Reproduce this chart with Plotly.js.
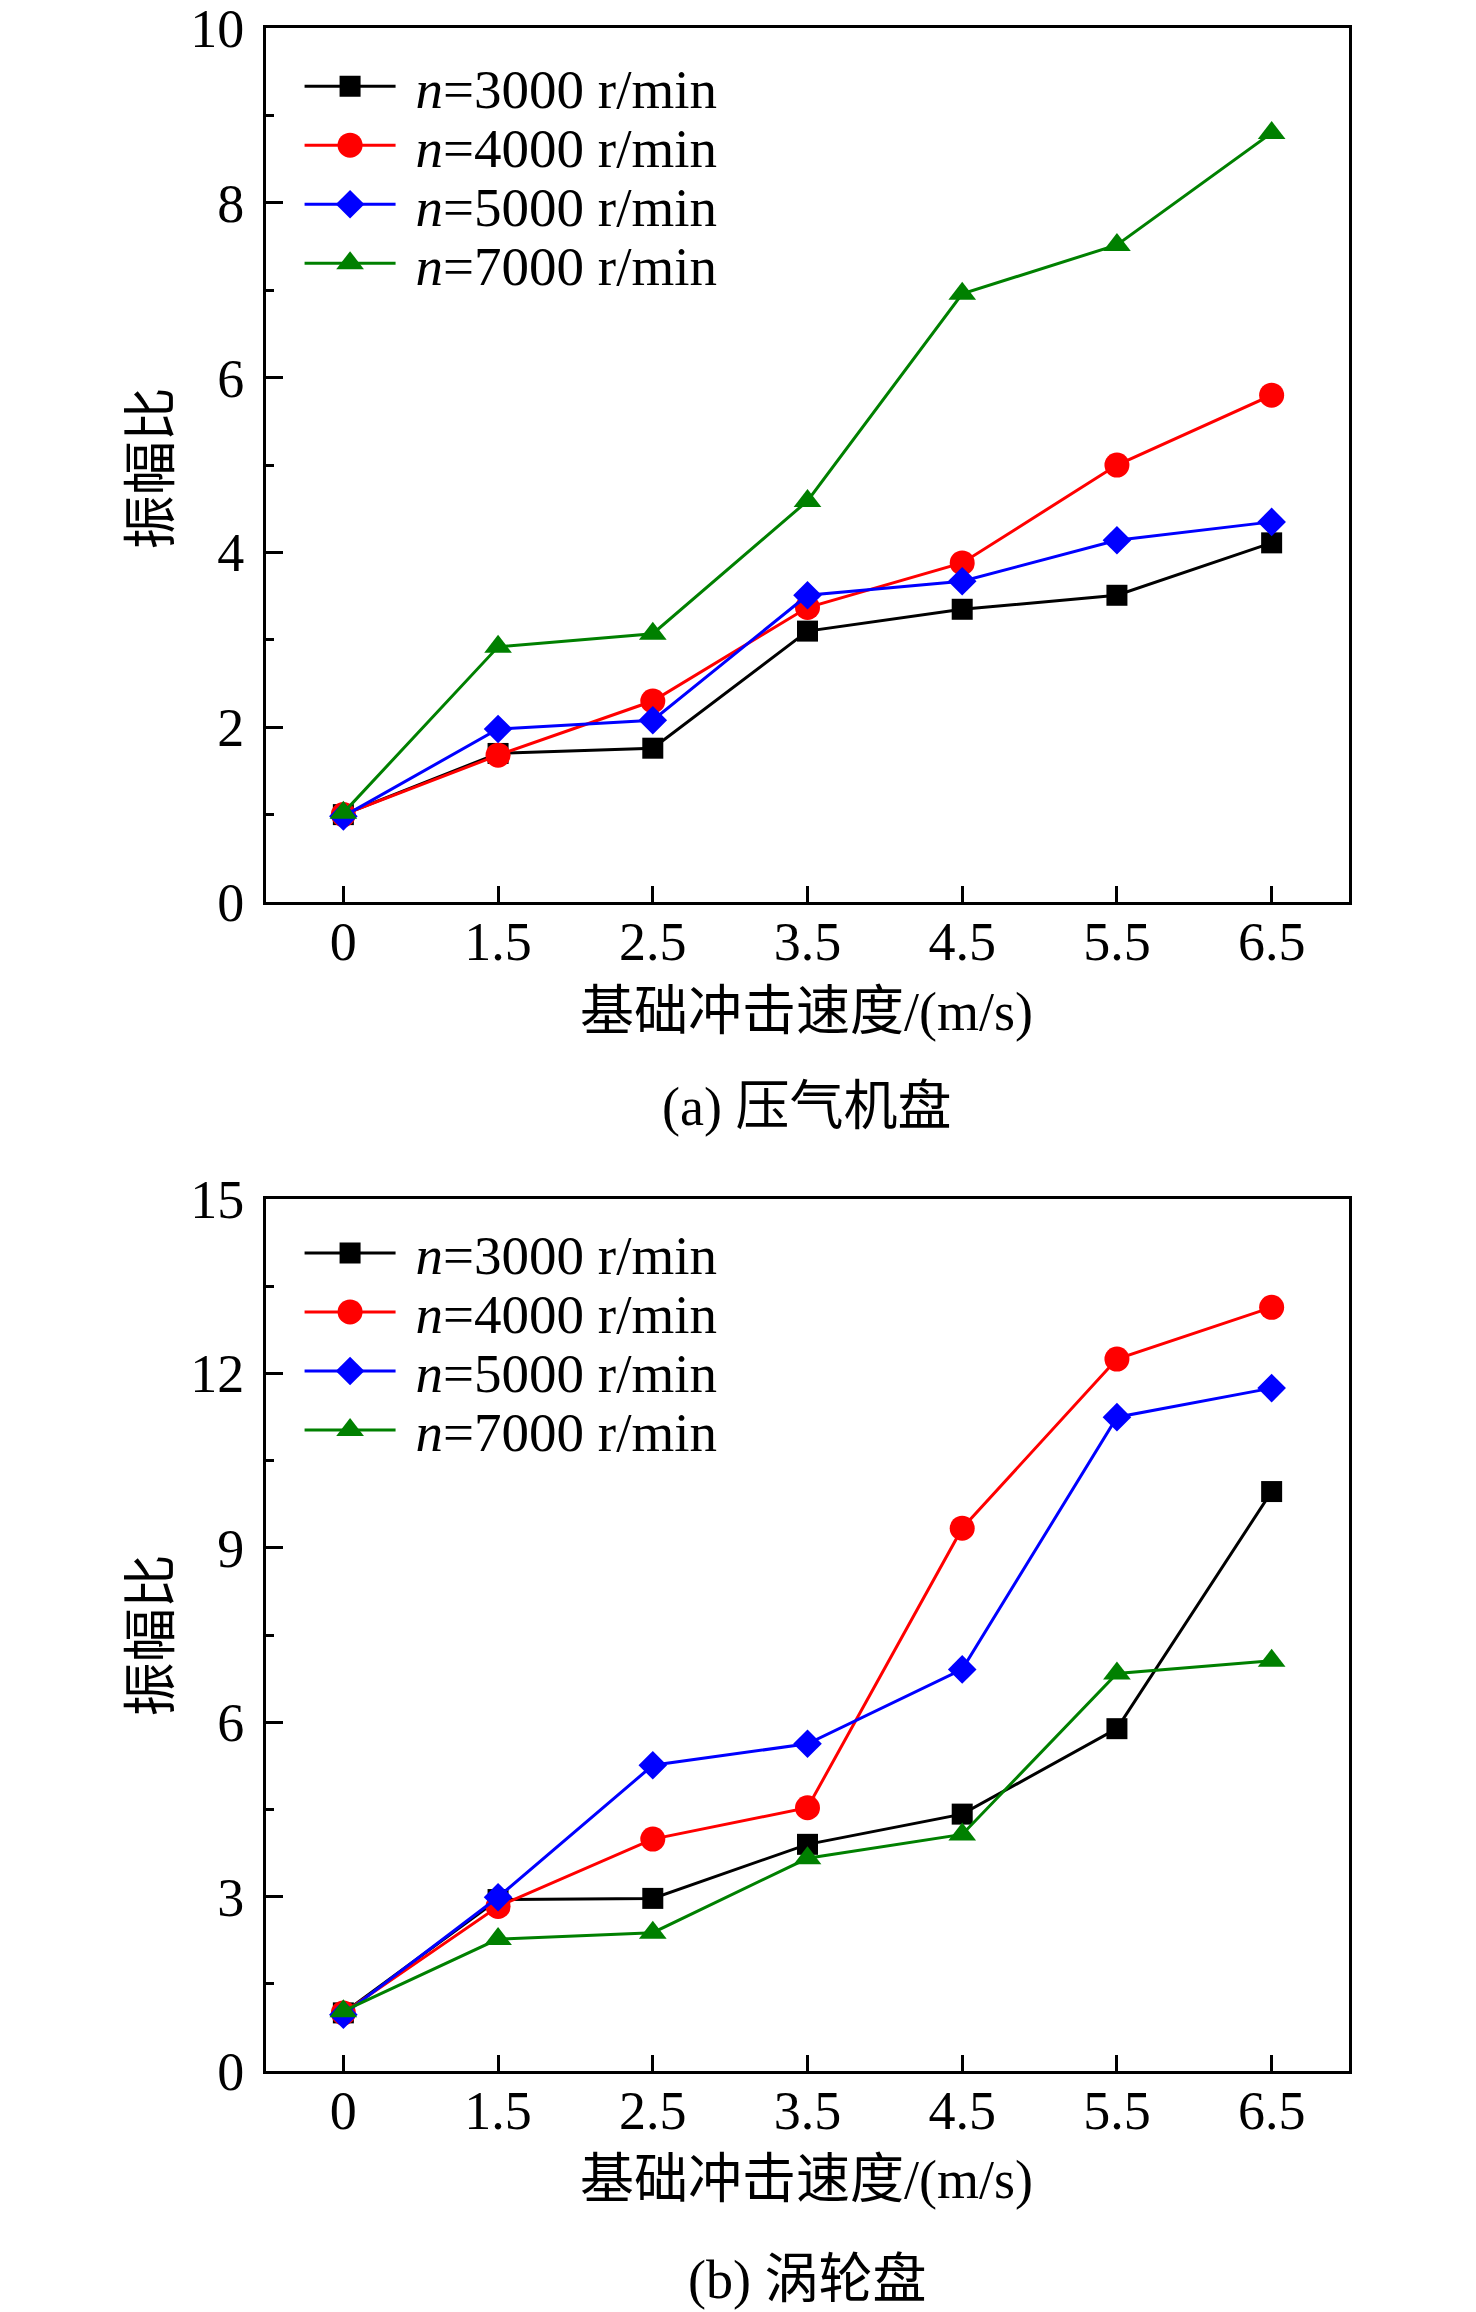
<!DOCTYPE html>
<html>
<head>
<meta charset="utf-8">
<script src="https://cdn.plot.ly/plotly-3.0.1.min.js"></script>
<style>
  html, body { margin: 0; padding: 0; background: #fff; }
  #chart { width: 1476px; height: 2312px; }
</style>
</head>
<body>
<div id="chart"></div>
<script>
// impact speed categories (m/s), shared by both panels
const speeds = ['0', '1.5', '2.5', '3.5', '4.5', '5.5', '6.5'];
const speedNames = ['n=3000 r/min', 'n=4000 r/min', 'n=5000 r/min', 'n=7000 r/min'];

// (a) compressor disc
const compN3000 = [1.00, 1.70, 1.76, 3.10, 3.35, 3.51, 4.11];
const compN4000 = [1.00, 1.68, 2.30, 3.37, 3.88, 5.00, 5.80];
const compN5000 = [0.98, 1.98, 2.08, 3.51, 3.67, 4.14, 4.35];
const compN7000 = [1.02, 2.92, 3.07, 4.59, 6.96, 7.52, 8.80];

// (b) turbine disc
const turbN3000 = [1.00, 2.95, 2.97, 3.90, 4.42, 5.89, 9.97];
const turbN4000 = [1.00, 2.83, 3.99, 4.53, 9.34, 12.25, 13.14];
const turbN5000 = [0.97, 2.99, 5.26, 5.63, 6.91, 11.25, 11.75];
const turbN7000 = [1.03, 2.27, 2.38, 3.66, 4.07, 6.84, 7.06];

const SERIF = '"Liberation Serif", "Times New Roman", "Noto Sans CJK SC", serif';
const FS = 54;
const LEGEND_ROW = 59;

const styles = [
  { color: '#000000', symbol: 'square', size: 21 },
  { color: '#ff0000', symbol: 'circle', size: 25 },
  { color: '#0000ff', symbol: 'diamond', size: 22 },
  { color: '#008000', symbol: 'triangle-up', size: 24 }
];

function legendLabel(name) {
  // italic n, rest upright
  return '<i>n</i>' + name.slice(1);
}

function panelTraces(series, xa, ya, legendId) {
  return series.map((vals, i) => ({
    type: 'scatter', mode: 'lines+markers',
    x: speeds, y: vals,
    xaxis: xa, yaxis: ya,
    name: legendLabel(speedNames[i]),
    legend: legendId,
    line: { color: styles[i].color, width: 3 },
    marker: { symbol: styles[i].symbol, size: styles[i].size, color: styles[i].color, line: { width: 0 } },
    cliponaxis: false
  }));
}

const traces = [
  ...panelTraces([compN3000, compN4000, compN5000, compN7000], 'x', 'y', 'legend'),
  ...panelTraces([turbN3000, turbN4000, turbN5000, turbN7000], 'x2', 'y2', 'legend2')
];

function xAxis(anchor) {
  return {
    anchor: anchor,
    type: 'category',
    range: [-0.5, 6.5],
    showline: true, linecolor: '#000', linewidth: 3, mirror: true,
    ticks: 'inside', ticklen: 16, tickwidth: 3, tickcolor: '#000',
    showgrid: false, zeroline: false,
    tickfont: { family: SERIF, size: FS, color: '#000' },
    ticklabelstandoff: -10
  };
}

function yAxis(anchor, domain, max, dtick) {
  return {
    anchor: anchor, domain: domain,
    range: [0, max * 1.0002],
    tick0: 0, dtick: dtick,
    showline: true, linecolor: '#000', linewidth: 3, mirror: true,
    ticks: 'inside', ticklen: 17, tickwidth: 3, tickcolor: '#000',
    minor: { dtick: dtick / 2, ticks: 'inside', ticklen: 8, tickwidth: 3, tickcolor: '#000', showgrid: false },
    showgrid: false, zeroline: false,
    tickfont: { family: SERIF, size: FS, color: '#000' },
    ticklabelstandoff: 8,
    ticklabeloverflow: 'allow'
  };
}

function legendBox(yTop) {
  return {
    x: 0.031, xanchor: 'left',
    y: yTop, yanchor: 'top',
    bgcolor: 'rgba(0,0,0,0)', borderwidth: 0,
    font: { family: SERIF, size: 55, color: '#000' },
    itemwidth: 106,
    tracegroupgap: 0
  };
}

function note(text, x, y, angle) {
  return {
    xref: 'paper', yref: 'paper', x: x, y: y,
    xanchor: 'center', yanchor: 'middle',
    text: text, showarrow: false, textangle: angle || 0,
    font: { family: SERIF, size: FS, color: '#000' }
  };
}

const layout = {
  width: 1476, height: 2312,
  paper_bgcolor: '#fff', plot_bgcolor: '#fff',
  margin: { l: 266, r: 127, t: 28, b: 241 },
  font: { family: SERIF, color: '#000' },
  xaxis: xAxis('y'),
  yaxis: yAxis('x', [0.5722, 1], 10, 2),
  xaxis2: xAxis('y2'),
  yaxis2: yAxis('x2', [0, 0.4268], 15, 3),
  legend: legendBox(0.9922),
  legend2: legendBox(0.4211),
  annotations: [
    note('振幅比', -0.105, 0.7846, -90),
    note('基础冲击速度/(m/s)', 0.4995, 0.5185),
    note('(a) 压气机盘', 0.4995, 0.4719),
    note('振幅比', -0.105, 0.2134, -90),
    note('基础冲击速度/(m/s)', 0.4995, -0.0535),
    note('(b) 涡轮盘', 0.4995, -0.1023)
  ]
};

function restyleLegends(gd) {
  // long sample line, full-size marker and tight row spacing as in the original
  gd.querySelectorAll('.infolayer > g[class^="legend"]').forEach(leg => {
    let y0 = null;
    leg.querySelectorAll('.traces').forEach((item, i) => {
      const tr = item.__data__ && item.__data__[0] && item.__data__[0].trace;
      const line = item.querySelector('.legendlines path');
      if (line) line.setAttribute('d', 'M5,0h91');
      const pt = item.querySelector('.legendpoints path.scatterpts');
      if (pt && tr) {
        const k = tr.marker.size / Math.min(tr.marker.size, 16);
        pt.setAttribute('transform', `translate(50.5,0) scale(${k})`);
      }
      const m = /translate\(\s*([-\d.]+)[ ,]+([-\d.]+)/.exec(item.getAttribute('transform') || '');
      if (m) {
        if (y0 === null) y0 = parseFloat(m[2]);
        item.setAttribute('transform', `translate(${m[1]},${y0 + i * LEGEND_ROW})`);
      }
    });
  });
}

Plotly.newPlot('chart', traces, layout, { displayModeBar: false, staticPlot: true }).then(gd => {
  restyleLegends(gd);
  setTimeout(() => restyleLegends(gd), 50);
});
</script>
</body>
</html>
